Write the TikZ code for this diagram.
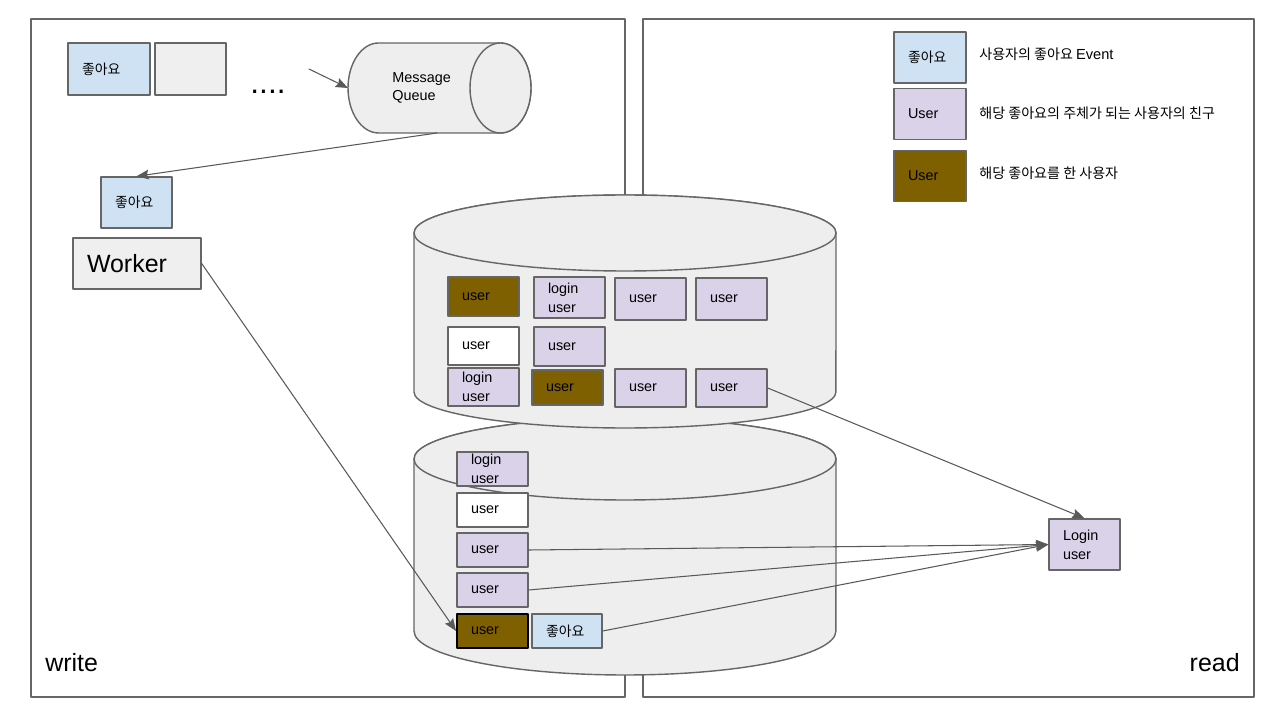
\documentclass[tikz,border=0pt]{standalone}
\usepackage{fontspec}
\setmainfont{Liberation Sans}
\newfontfamily\kr{Noto Sans CJK KR}
\usetikzlibrary{arrows.meta, positioning}

\definecolor{likeblue}{HTML}{CFE2F3}
\definecolor{friendpurple}{HTML}{D9D2E9}
\definecolor{actorbrown}{HTML}{7F6000}
\definecolor{boxgrey}{HTML}{EFEFEF}
\definecolor{dbgrey}{HTML}{EEEEEE}
\definecolor{edgegrey}{HTML}{666666}
\definecolor{linegrey}{HTML}{595959}

\tikzset{
  panel/.style={draw=edgegrey, line width=0.8pt},
  db/.style={draw=edgegrey, line width=0.8pt, fill=dbgrey},
  cell/.style={draw=edgegrey, line width=0.8pt, text width=0.86cm, minimum height=0.72cm,
    inner xsep=0.28cm, inner ysep=0pt, align=left, font=\fontsize{8.2}{10.8}\selectfont},
  like/.style={cell, fill=likeblue, font=\kr\fontsize{7.9}{9}\selectfont},
  friend/.style={cell, fill=friendpurple},
  actor/.style={cell, fill=actorbrown},
  userbox/.style={cell, fill=white},
  link/.style={draw=linegrey, line width=0.6pt},
  keytext/.style={anchor=west, inner sep=0pt, font=\kr\fontsize{8}{9}\selectfont},
  sidelabel/.style={inner sep=0pt, font=\fontsize{14.2}{17}\selectfont}
}

\begin{document}
\begin{tikzpicture}[x=0.02cm, y=-0.02cm, line cap=round, line join=round,
  >={Stealth[length=7pt, width=5.5pt, inset=1pt]}]
\useasboundingbox (0,0) rectangle (1280,722);

% Panels
\draw[panel] (31,19) rectangle (625,697);
\draw[panel] (643,19) rectangle (1254,697);
\node[sidelabel, anchor=west] (write) at (45,663) {write};
\node[sidelabel, anchor=east] (read) at (1240,663) {read};

% Lower store
\path[db] (414,459) -- (414,631) arc[start angle=180, end angle=360, x radius=4.22cm, y radius=0.88cm]
  -- (836,459) arc[start angle=0, end angle=180, x radius=4.22cm, y radius=0.82cm] -- cycle;
\draw[db] (625,459) ellipse[x radius=4.22cm, y radius=0.82cm];

% Upper store
\path[db] (414,233) -- (414,392) arc[start angle=180, end angle=360, x radius=4.22cm, y radius=0.72cm]
  -- (836,233) arc[start angle=0, end angle=180, x radius=4.22cm, y radius=0.76cm] -- cycle;
\draw[db] (625,233) ellipse[x radius=4.22cm, y radius=0.76cm];

% Message queue
\path[db] (500.5,43) -- (378.5,43) arc[start angle=90, end angle=270, x radius=0.61cm, y radius=0.9cm]
  -- (500.5,133) arc[start angle=-90, end angle=90, x radius=0.61cm, y radius=0.9cm] -- cycle;
\draw[db] (500.5,88) ellipse[x radius=0.61cm, y radius=0.9cm];
\node[anchor=west, inner sep=0pt, align=left, font=\fontsize{8.2}{10.2}\selectfont] (mq) at (392,88) {Message\\Queue};
\coordinate (mqin) at (309,69);
\coordinate (mqL) at (348,88);
\coordinate (mqB) at (437,133);

% Write side
\node[like, text width=1.08cm, minimum height=1.04cm] (like1) at (109,69) {좋아요};
\node[cell, fill=boxgrey, minimum height=1.04cm] (blank) at (190.5,69) {};
\node[anchor=base, inner sep=0pt, font=\fontsize{18}{20}\selectfont] (dots) at (268,94) {....};
\node[like, minimum height=1.02cm] (like2) at (136.5,202.5) {좋아요};
\node[cell, fill=boxgrey, text width=2cm, minimum height=1.02cm, font=\fontsize{14.2}{17}\selectfont] (worker) at (137,263.5) {Worker};

% Upper store cells
\node[actor, minimum height=0.78cm] (t11) at (483.5,296.5) {user};
\node[friend, minimum height=0.82cm] (t12) at (569.5,297.5) {login\\user};
\node[friend, minimum height=0.84cm] (t13) at (650.5,299) {user};
\node[friend, minimum height=0.84cm] (t14) at (731.5,299) {user};
\node[userbox, minimum height=0.76cm] (t21) at (483.5,346) {user};
\node[friend, minimum height=0.78cm] (t22) at (569.5,346.5) {user};
\node[friend, minimum height=0.76cm] (t31) at (483.5,387) {login\\user};
\node[actor, minimum height=0.70cm] (t32) at (567.5,387.5) {user};
\node[friend, minimum height=0.76cm] (t33) at (650.5,388) {user};
\node[friend, minimum height=0.76cm] (t34) at (731.5,388) {user};

% Lower store cells
\node[friend, minimum height=0.68cm] (b1) at (492.5,469) {login\\user};
\node[userbox, minimum height=0.68cm] (b2) at (492.5,510) {user};
\node[friend, minimum height=0.68cm] (b3) at (492.5,550) {user};
\node[friend, minimum height=0.68cm] (b4) at (492.5,590) {user};
\node[actor, draw=black, line width=1.1pt, minimum height=0.68cm] (b5) at (492.5,631) {user};
\node[like, text width=0.84cm, minimum height=0.68cm] (b6) at (567,631) {좋아요};

% Read side
\node[friend, minimum height=1.02cm] (login) at (1084.5,544.5) {Login\\user};

% Legend
\node[like, text width=0.88cm, minimum height=1.02cm] (key1) at (930,57.5) {좋아요};
\node[friend, text width=0.88cm, minimum height=1.02cm] (key2) at (930,114) {User};
\node[actor, text width=0.88cm, minimum height=1.02cm] (key3) at (930,176) {User};
\node[keytext] (key1txt) at (979,54) {사용자의 좋아요 {\fontspec{Liberation Sans}\fontsize{8.3}{9}\selectfont Event}};
\node[keytext] (key2txt) at (979,113) {해당 좋아요의 주체가 되는 사용자의 친구};
\node[keytext] (key3txt) at (979,173) {해당 좋아요를 한 사용자};

% Connectors
\draw[link, ->] (mqin) -- (mqL);
\draw[link, ->] (mqB) -- (like2.north);
\draw[link, ->] (worker.east) -- (b5.west);
\draw[link, ->] (t34.east) -- (login.north);
\foreach \src in {b3,b4,b6}
  \draw[link, ->] (\src.east) -- (login.west);
\end{tikzpicture}
\end{document}
